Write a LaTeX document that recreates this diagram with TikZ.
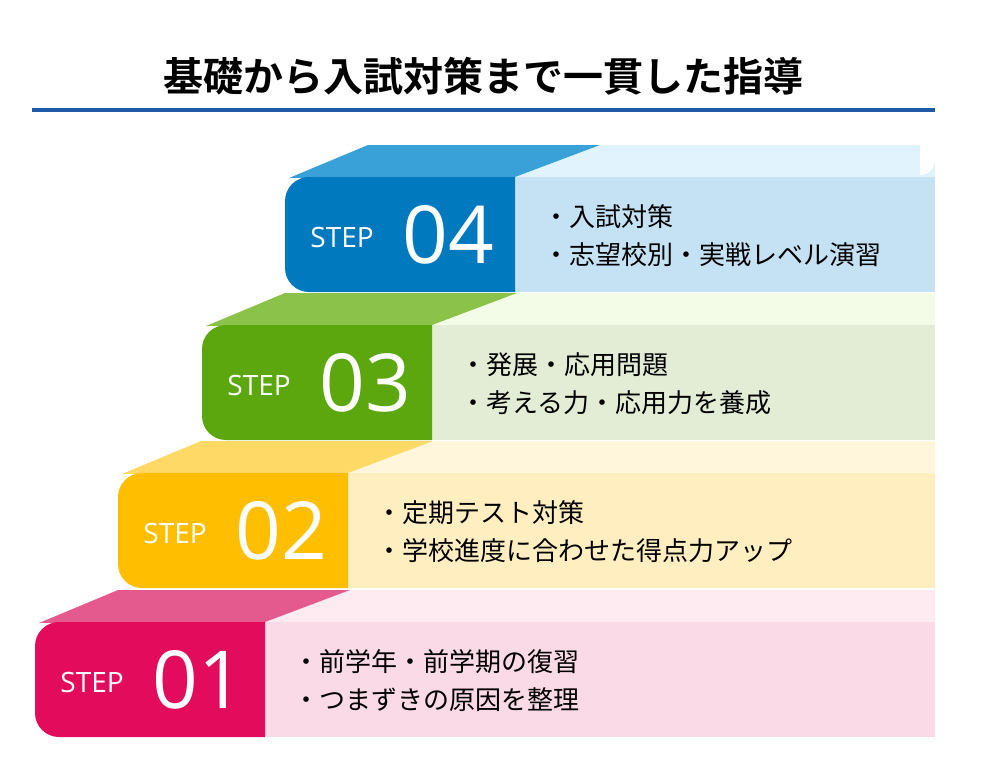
\documentclass[tikz,border=0pt]{standalone}
\usepackage{fontspec}
\newfontfamily\cjk{Noto Sans CJK JP}
\newfontfamily\cjkbold{Noto Sans CJK JP Bold}
\newfontfamily\stepfont{Open Sans}
\definecolor{pinkfront}{HTML}{E30B5C}
\definecolor{pinktop}{HTML}{E55A8E}
\definecolor{pinkpanel}{HTML}{FADAE6}
\definecolor{pinkstrip}{HTML}{FDEBF1}
\definecolor{yellowfront}{HTML}{FFBE00}
\definecolor{yellowtop}{HTML}{FFD966}
\definecolor{yellowpanel}{HTML}{FFEFC0}
\definecolor{yellowstrip}{HTML}{FFF6DC}
\definecolor{greenfront}{HTML}{5BA70D}
\definecolor{greentop}{HTML}{8BC34A}
\definecolor{greenpanel}{HTML}{E3EDD6}
\definecolor{greenstrip}{HTML}{F2FCE6}
\definecolor{bluefront}{HTML}{0079BE}
\definecolor{bluetop}{HTML}{3AA0D8}
\definecolor{bluepanel}{HTML}{C4E2F4}
\definecolor{bluestrip}{HTML}{E1F3FD}
\definecolor{titleline}{HTML}{1F5AA6}
\tikzset{
  steplabel/.style={anchor=west, text=white, font=\stepfont\fontsize{14}{14}\selectfont, inner sep=0pt},
  stepnum/.style={anchor=center, text=white, font=\stepfont\fontsize{40}{40}\selectfont, inner sep=0pt},
  bullet/.style={anchor=west, font=\cjk\fontsize{13}{13}\selectfont, inner sep=0pt},
}
\begin{document}
\begin{tikzpicture}[x=0.5pt,y=-0.5pt]
\useasboundingbox (0,0) rectangle (990,777);

% Title
\node[font=\cjkbold\fontsize{20}{20}\selectfont, inner sep=0pt] (title) at (483,76) {基礎から入試対策まで一貫した指導};
\fill[titleline] (32,108) rectangle (935,112);

% Steps (bottom to top)
\foreach \sx/\sy/\col/\num/\lineA/\lineB in {35/622/pink/01/前学年・前学期の復習/つまずきの原因を整理, 118/473/yellow/02/定期テスト対策/学校進度に合わせた得点力アップ, 202/325/green/03/発展・応用問題/考える力・応用力を養成, 285/177/blue/04/入試対策/志望校別・実戦レベル演習} {
  % right side panel and strip
  \fill[\col strip] ({\sx+230},{\sy}) -- ({\sx+315},{\sy-32}) -- (935,{\sy-32}) -- (935,{\sy}) -- cycle;
  \fill[\col panel] ({\sx+230},{\sy}) rectangle (935,{\sy+115});
  % top face and front face
  \fill[\col top] ({\sx+4},{\sy+1}) -- ({\sx+83},{\sy-32}) -- ({\sx+315},{\sy-32}) -- ({\sx+230},{\sy}) -- cycle;
  \begin{scope}
    \clip ({\sx},{\sy}) rectangle ({\sx+230},{\sy+115});
    \fill[\col front, rounded corners=12] ({\sx},{\sy}) rectangle ({\sx+260},{\sy+115});
  \end{scope}
  % texts
  \node[steplabel] (step\num) at ({\sx+25},{\sy+60}) {STEP};
  \node[stepnum] (num\num) at ({\sx+163},{\sy+58}) {\num};
  \node[bullet] (lineA\num) at ({\sx+258},{\sy+40}) {・\lineA};
  \node[bullet] (lineB\num) at ({\sx+258},{\sy+78}) {・\lineB};
}

% rounded outer corners of the right column
\fill[white] (920,145) -- (935,145) -- (935,160) arc[start angle=0, end angle=90, radius=15] -- cycle;
\fill[white] (935,722) -- (935,737) -- (920,737) arc[start angle=270, end angle=360, radius=15] -- cycle;
\end{tikzpicture}
\end{document}
